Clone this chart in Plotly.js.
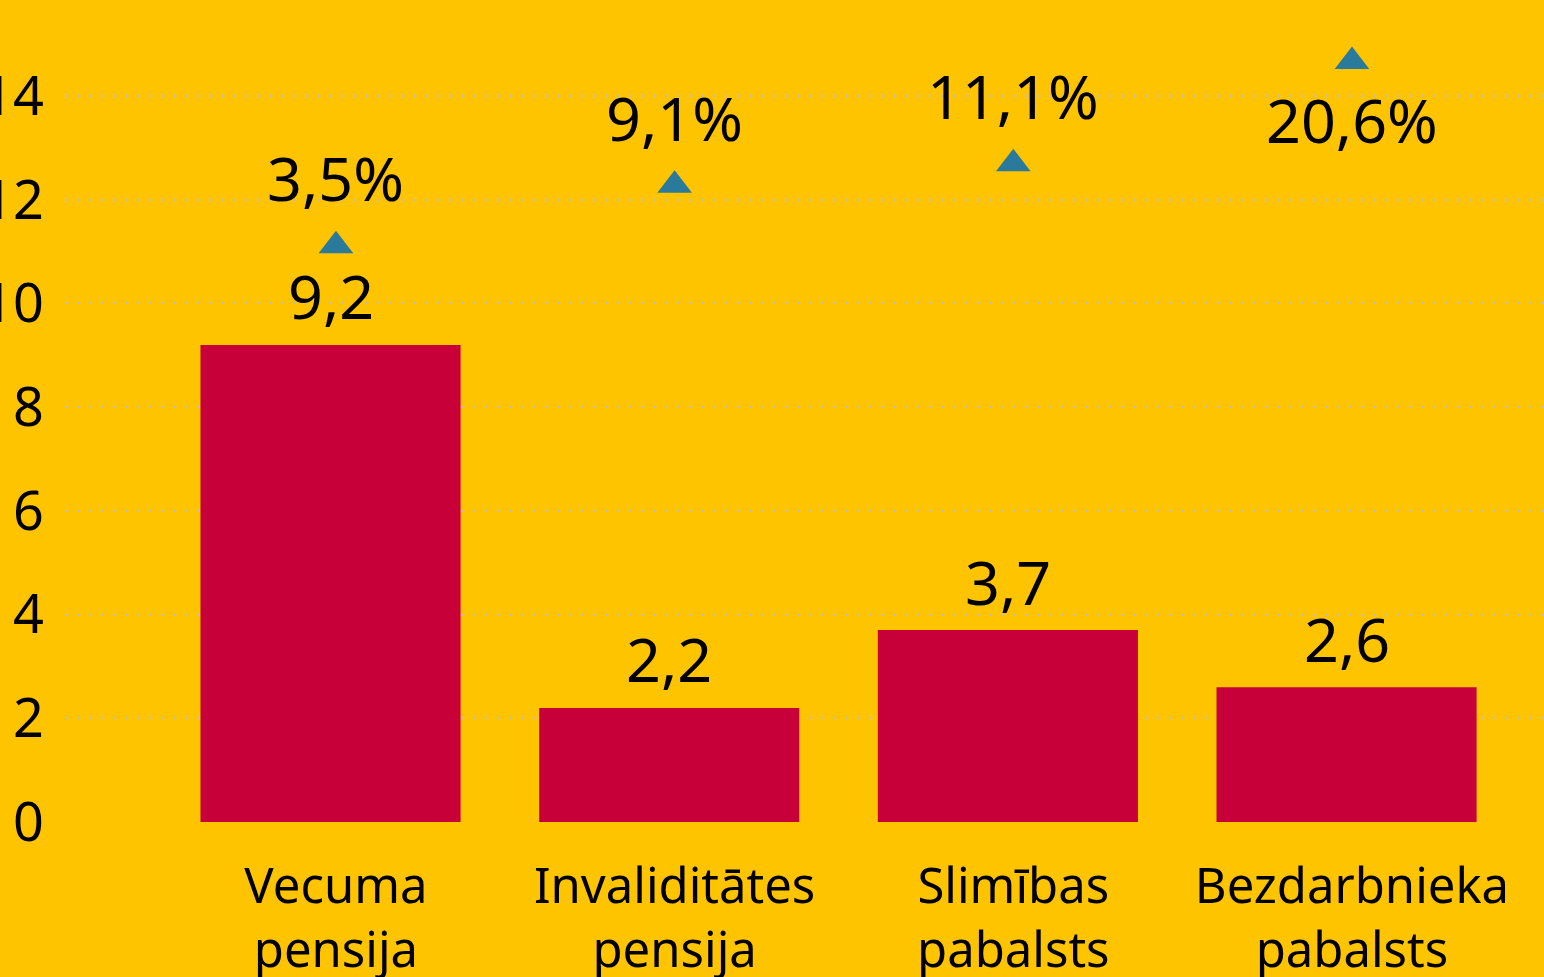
<!DOCTYPE html>
<html>
<head>
<meta charset="utf-8">
<script src="https://cdn.plot.ly/plotly-3.0.1.min.js"></script>
<style>
  html, body { margin: 0; padding: 0; background: #FFC400; }
  #chart { width: 1544px; height: 977px; }
</style>
</head>
<body>
<div id="chart"></div>
<script>
// ---- data ----
const categories = ['Vecuma pensija', 'Invaliditātes pensija', 'Slimības pabalsts', 'Bezdarbnieka pabalsts'];
const tickLabels = ['Vecuma<br>pensija', 'Invaliditātes<br>pensija', 'Slimības<br>pabalsts', 'Bezdarbnieka<br>pabalsts'];
const amounts = [9.2, 2.2, 3.7, 2.6];          // bars
const growthPct = [3.5, 9.1, 11.1, 20.6];      // triangles (secondary axis, %)
const growthLabelSide = ['above', 'above', 'above', 'below'];

const BG = '#FFC400';
const BAR = '#C8003A';
const TRI = '#2A7A9B';
const FONT = 'Noto Sans, Open Sans, DejaVu Sans, sans-serif';

const xIdx = categories.map((c, i) => i);

const bars = {
  type: 'bar',
  x: xIdx,
  y: amounts,
  width: 0.768,
  offset: -0.400,
  marker: { color: BAR, line: { width: 0 } },
  hoverinfo: 'skip'
};

const tris = {
  type: 'scatter',
  mode: 'markers',
  x: xIdx,
  y: growthPct,
  yaxis: 'y2',
  marker: { symbol: 'triangle-up', size: 30, color: TRI, line: { width: 0 } },
  cliponaxis: false,
  hoverinfo: 'skip'
};

// bar value labels (centred on the bar, which is shifted by its offset)
const barLabels = amounts.map((v, i) => ({
  x: xIdx[i] - 0.016,
  y: v,
  xref: 'x',
  yref: 'y',
  text: v.toFixed(1).replace('.', ','),
  showarrow: false,
  xanchor: 'center',
  yanchor: 'middle',
  yshift: 49,
  font: { family: FONT, size: 61, color: '#000' }
}));

const pctLabels = growthPct.map((v, i) => ({
  x: xIdx[i],
  y: v,
  xref: 'x',
  yref: 'y2',
  text: v.toFixed(1).replace('.', ',') + '%',
  showarrow: false,
  xanchor: 'center',
  yanchor: 'middle',
  yshift: growthLabelSide[i] === 'above' ? 68 : -58,
  font: { family: FONT, size: 61, color: '#000' }
}));

const layout = {
  width: 1544,
  height: 977,
  paper_bgcolor: BG,
  plot_bgcolor: BG,
  separators: ', ',
  showlegend: false,
  hovermode: false,
  margin: { l: 65, r: 0, t: 0, b: 155, pad: 0 },
  xaxis: {
    type: 'linear',
    range: [-0.800, 3.567],
    tickmode: 'array',
    tickvals: xIdx,
    ticktext: tickLabels,
    showgrid: false,
    zeroline: false,
    showline: false,
    ticks: '',
    ticklabelstandoff: 31,
    tickfont: { family: FONT, size: 49, color: '#000' },
    automargin: false,
    fixedrange: true
  },
  yaxis: {
    range: [0, 15.85],
    tickmode: 'linear',
    tick0: 0,
    dtick: 2,
    showgrid: true,
    gridcolor: '#BDBDBD',
    gridwidth: 2,
    griddash: '3px,9px',
    zeroline: false,
    showline: false,
    ticks: '',
    ticklabelstandoff: 20,
    tickfont: { family: FONT, size: 54, color: '#000' },
    automargin: false,
    fixedrange: true
  },
  yaxis2: {
    overlaying: 'y',
    side: 'right',
    range: [-50.01, 26.31],
    visible: false,
    showgrid: false,
    zeroline: false,
    fixedrange: true
  },
  annotations: barLabels.concat(pctLabels)
};

Plotly.newPlot('chart', [bars, tris], layout, { displayModeBar: false, staticPlot: true });
</script>
</body>
</html>
